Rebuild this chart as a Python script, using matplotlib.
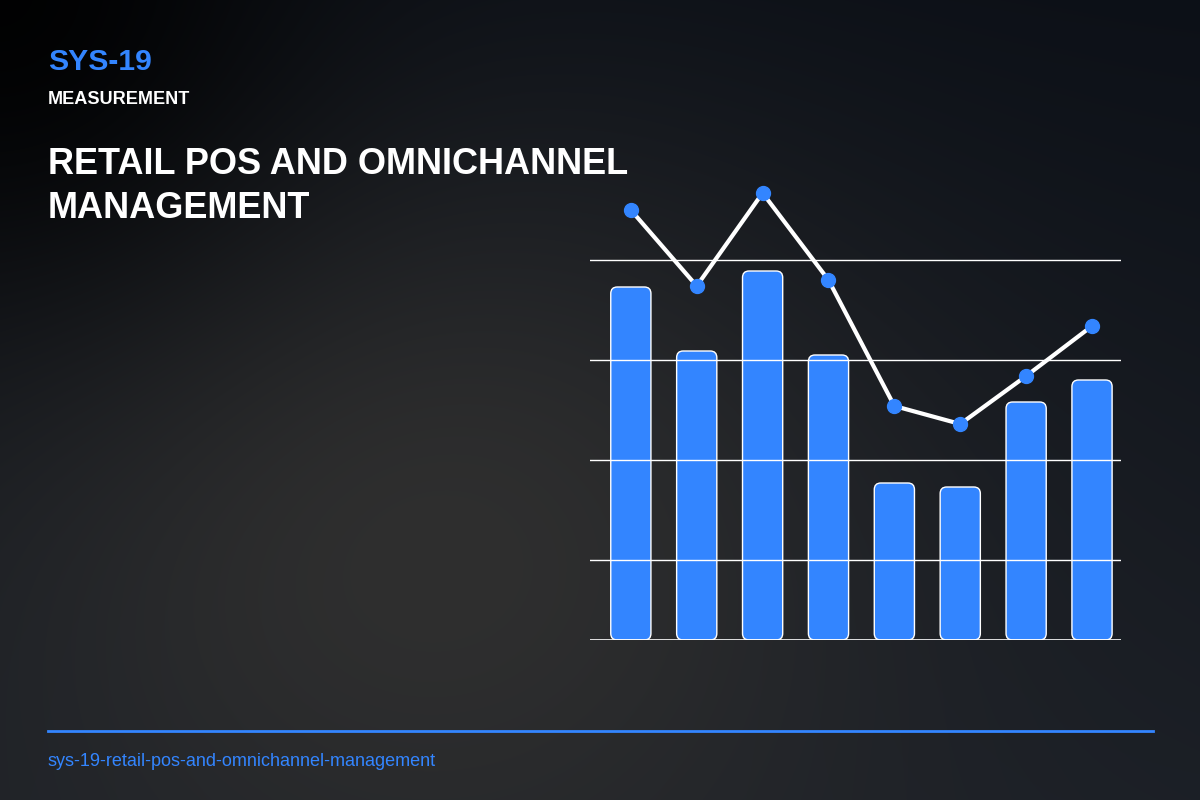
import numpy as np
import matplotlib.pyplot as plt
from matplotlib.patches import FancyBboxPatch

plt.rcParams['font.family'] = ['Liberation Sans', 'DejaVu Sans']

# data
bar_values = [70.6, 57.8, 73.8, 57.0, 31.4, 30.6, 47.6, 52.0]
line_values = [86.0, 70.8, 89.4, 72.0, 46.8, 43.2, 52.8, 62.8]
grid_levels = [16, 36, 56, 76]

BLUE = '#3385ff'
W, H = 1200, 800

fig = plt.figure(figsize=(12, 8), dpi=100)

# background gradient
yy, xx = np.mgrid[0:H, 0:W].astype(float)
top = np.array([12, 16, 23]) / 255
bot = np.array([27, 31, 38]) / 255
t = (yy / H)[..., None]
bg = top * (1 - t) + bot * t
gray = np.array([47, 47, 47]) / 255
w = np.exp(-(((xx - 430) / 470) ** 2 + ((yy - 560) / 400) ** 2))[..., None]
bg = bg * (1 - w) + gray * w
d = np.exp(-((xx ** 2 + yy ** 2) / 300 ** 2))[..., None]
bg = bg * (1 - 0.9 * d)
bax = fig.add_axes([0, 0, 1, 1])
bax.imshow(bg, aspect='auto', extent=[0, W, H, 0])
bax.set_xlim(0, W)
bax.set_ylim(H, 0)
bax.axis('off')

# chart axes
ax = fig.add_axes([590 / W, 160 / H, 531 / W, 460 / H])
ax.set_facecolor('none')
ax.set_xlim(-0.62, 7.44)
ax.set_ylim(0, 92)
for s in ax.spines.values():
    s.set_visible(False)
ax.set_xticks([])
ax.set_yticks([])

x = np.arange(len(bar_values))
bw = 0.61
for xi, v in zip(x, bar_values):
    p = FancyBboxPatch((xi - bw / 2, 0), bw, v,
                       boxstyle='round,pad=0,rounding_size=0.1',
                       mutation_aspect=13.2,
                       facecolor=BLUE, edgecolor='white', linewidth=1, zorder=2)
    ax.add_patch(p)

for g in grid_levels:
    ax.axhline(g, color='white', linewidth=1, zorder=3)
ax.axhline(0, color='white', linewidth=1.2, zorder=3)

ax.plot(x, line_values, color='white', linewidth=3, zorder=4)
ax.plot(x, line_values, 'o', color=BLUE, markersize=10, zorder=5)

# texts
fig.text(48 / W, 1 - 62 / H, 'SYS-19', color=BLUE, fontsize=21.7, fontweight='bold', va='center')
fig.text(48 / W, 1 - 99 / H, 'MEASUREMENT', color='white', fontsize=13.1, fontweight='bold', va='center')
fig.text(48 / W, 1 - 165 / H, 'RETAIL POS AND OMNICHANNEL', color='white', fontsize=26,
         fontweight='bold', va='center')
fig.text(48 / W, 1 - 208 / H, 'MANAGEMENT', color='white', fontsize=26,
         fontweight='bold', va='center')

bax.plot([48, 1153], [731, 731], color=BLUE, linewidth=2)
fig.text(48 / W, 1 - 762 / H, 'sys-19-retail-pos-and-omnichannel-management', color=BLUE,
         fontsize=13, va='center')

fig.savefig('out.png', dpi=100)
